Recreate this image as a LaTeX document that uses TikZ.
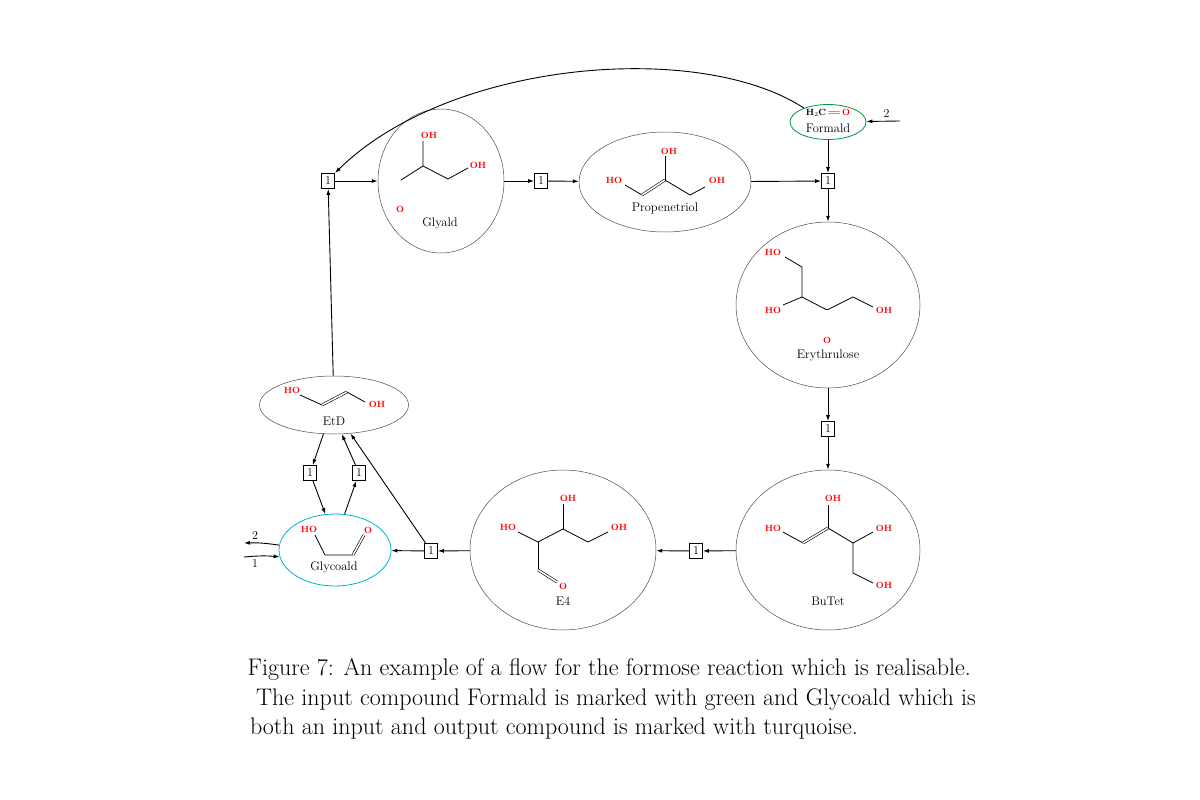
\documentclass[tikz,border=0pt]{standalone}
\usetikzlibrary{arrows.meta,shapes.geometric}
\definecolor{fgreen}{RGB}{0,150,70}
\definecolor{fturq}{RGB}{0,180,210}
\begin{document}
\begin{tikzpicture}[x=1pt,y=-1pt,
  comp/.style={draw=black!70,ellipse,line width=0.5pt,inner sep=0pt},
  rbox/.style={draw,fill=white,line width=0.8pt,minimum width=13pt,minimum height=15pt,inner sep=0pt,font=\fontsize{12}{12}\selectfont},
  ar/.style={line width=0.9pt,-{Latex[length=6pt,width=4pt]}},
  bond/.style={line width=0.8pt},
  dbond/.style={line width=0.6pt,double distance=1.6pt},
  atm/.style={text=red,font=\fontsize{9}{9}\selectfont\bfseries,inner sep=0pt},
  lbl/.style={font=\fontsize{12.5}{12.5}\selectfont,inner sep=0pt}]
\useasboundingbox (0,0) rectangle (1200,800);
% compounds
\node (glyald) [comp,minimum width=126,minimum height=144] at (441,181) {};
\node (prop) [comp,minimum width=172,minimum height=100] at (665,182) {};
\node (form) [comp,draw=fgreen,line width=0.8pt,minimum width=76,minimum height=35] at (828,122) {};
\node (ery) [comp,minimum width=184,minimum height=166] at (828,305) {};
\node (butet) [comp,minimum width=184,minimum height=160] at (828,550) {};
\node (efour) [comp,minimum width=186,minimum height=160] at (563,550) {};
\node (glyco) [comp,draw=fturq,line width=0.8pt,minimum width=112,minimum height=72] at (335,550) {};
\node (etd) [comp,minimum width=149,minimum height=58] at (334,405) {};
% boxes
\node[rbox] (b1) at (328,181) {1};
\node[rbox] (b2) at (541,181) {1};
\node[rbox] (b3) at (828,181) {1};
\node[rbox] (b4) at (828,429) {1};
\node[rbox] (b5) at (696,551) {1};
\node[rbox] (b6) at (431,551) {1};
\node[rbox] (b7) at (310,473) {1};
\node[rbox] (b8) at (359,473) {1};
\coordinate (fin) at (900,121);
\coordinate (gout) at (244,543);
\coordinate (gin) at (244,557);
% Glyald
\draw[dbond] (401,205) -- (401,180);
\draw[bond] (401,180) -- (423,166) -- (423,141);
\draw[bond] (423,166) -- (448,179) -- (468,168);
\node[atm] at (400,209) {O};
\node[atm] at (429,135) {OH};
\node[atm] at (478,165) {OH};
\node[lbl] at (440,223) {Glyald};
% Propenetriol
\draw[bond] (625,185) -- (642,195);
\draw[dbond] (642,195) -- (665,180);
\draw[bond] (665,180) -- (665,156);
\draw[bond] (665,180) -- (690,195) -- (705,187);
\node[atm] at (614,180) {HO};
\node[atm] at (669,151) {OH};
\node[atm] at (717,180) {OH};
\node[lbl] at (665,208) {Propenetriol};
% Formald
\node[font=\fontsize{9}{9}\selectfont\bfseries,inner sep=0pt] at (828,113) {H$_2$C\,$=\!=$\,\textcolor{red}{O}};
\node[lbl] at (828,128) {Formald};
% Erythrulose
\draw[bond] (785,257) -- (802,267) -- (802,297) -- (827,310) -- (853,297) -- (873,307);
\draw[bond] (783,305) -- (802,297);
\draw[dbond] (827,310) -- (827,334);
\node[atm] at (773,252) {HO};
\node[atm] at (773,310) {HO};
\node[atm] at (827,340) {O};
\node[atm] at (884,310) {OH};
\node[lbl] at (828,355) {Erythrulose};
% BuTet
\draw[bond] (783,532) -- (803,543);
\draw[dbond] (803,543) -- (828,528);
\draw[bond] (828,528) -- (828,505);
\draw[bond] (828,528) -- (853,543) -- (873,532);
\draw[bond] (853,543) -- (853,573) -- (873,583);
\node[atm] at (773,528) {HO};
\node[atm] at (833,498) {OH};
\node[atm] at (884,528) {OH};
\node[atm] at (884,585) {OH};
\node[lbl] at (828,601) {BuTet};
% E4
\draw[bond] (518,532) -- (538,542) -- (563,529) -- (588,542) -- (608,532);
\draw[bond] (563,529) -- (563,504);
\draw[bond] (538,542) -- (538,570);
\draw[dbond] (538,570) -- (557,582);
\node[atm] at (508,527) {HO};
\node[atm] at (568,498) {OH};
\node[atm] at (619,527) {OH};
\node[atm] at (563,586) {O};
\node[lbl] at (563,601) {E4};
% Glycoald
\draw[bond] (315,535) -- (325,555) -- (353,555);
\draw[dbond] (353,555) -- (364,535);
\node[atm] at (309,529) {HO};
\node[atm] at (368,530) {O};
\node[lbl] at (334,567) {Glycoald};
% EtD
\draw[bond] (300,395) -- (322,405);
\draw[dbond] (322,405) -- (347,392);
\draw[bond] (347,392) -- (365,402);
\node[atm] at (292,390) {HO};
\node[atm] at (377,404) {OH};
\node[lbl] at (334,421) {EtD};
% connectors
\draw[ar] (form) -- (b3);
\draw[ar] (prop) -- (b3);
\draw[ar] (b3) -- (ery);
\draw[ar] (b1) -- (glyald);
\draw[ar] (glyald) -- (b2);
\draw[ar] (b2) -- (prop);
\draw[ar] (form.150) .. controls (700,40) and (450,60) .. (b1.north east);
\draw[ar] (ery) -- (b4);
\draw[ar] (b4) -- (butet);
\draw[ar] (butet) -- (b5);
\draw[ar] (b5) -- (efour);
\draw[ar] (efour) -- (b6);
\draw[ar] (b6) -- (glyco);
\draw[ar] (b6) -- (etd.-60);
\draw[ar] (etd.-110) -- (b7);
\draw[ar] (b7) -- (glyco.105);
\draw[ar] (glyco.75) -- (b8);
\draw[ar] (b8) -- (etd.-75);
\draw[ar] (etd) -- (b1);
\draw[ar] (fin) -- (form) node[pos=0.4,above,font=\fontsize{12}{12}\selectfont] {2};
\draw[ar] (glyco.175) to[bend right=5] node[pos=0.7,above,font=\fontsize{12}{12}\selectfont] {2} (gout);
\draw[ar] (gin) to[bend left=5] node[pos=0.3,below,font=\fontsize{12}{12}\selectfont] {1} (glyco.187);
% caption
\begin{scope}
\clip (198,640) rectangle (1200,760);
\node[anchor=base east,inner sep=0pt,font=\fontsize{24}{30}\selectfont] at (971,675) {Figure 7: An example of a flow for the formose reaction which is realisable.};
\node[anchor=base east,inner sep=0pt,font=\fontsize{24}{30}\selectfont] at (976,705) {The input compound Formald is marked with green and Glycoald which is};
\node[anchor=base east,inner sep=0pt,font=\fontsize{24}{30}\selectfont] at (858,734) {both an input and output compound is marked with turquoise.};
\end{scope}
\end{tikzpicture}
\end{document}
